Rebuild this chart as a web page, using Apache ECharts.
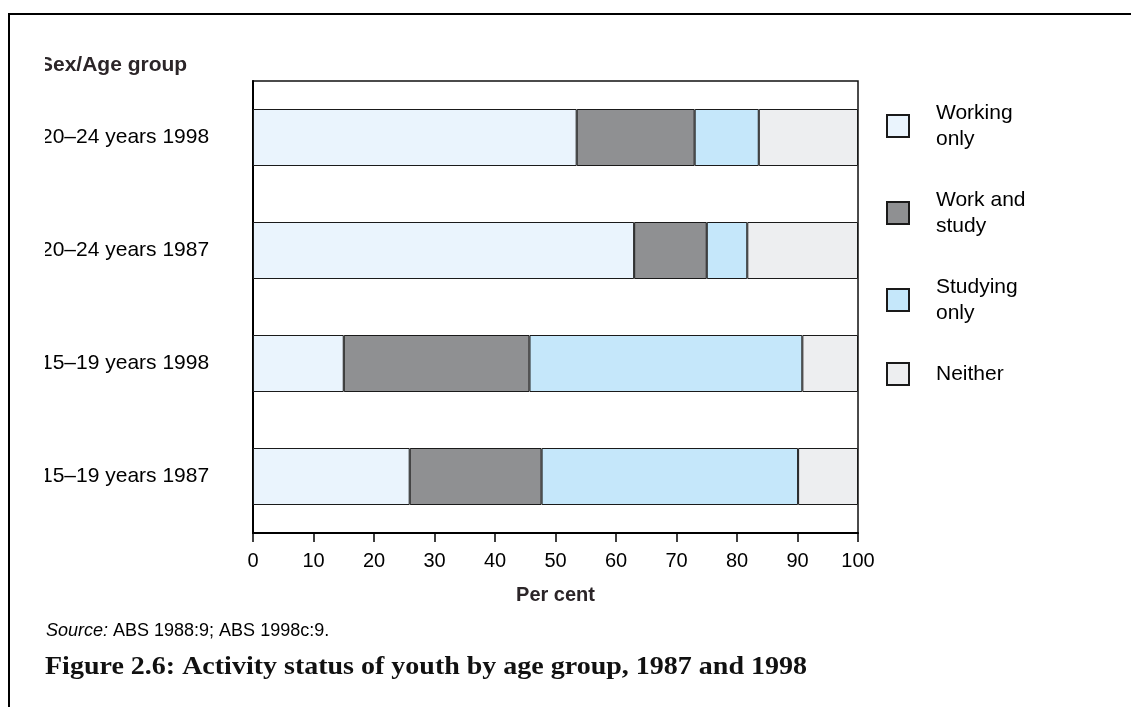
<!DOCTYPE html>
<html>
<head>
<meta charset="utf-8">
<script src="https://cdn.jsdelivr.net/npm/echarts@6/dist/echarts.min.js"></script>
<style>
  html, body { margin: 0; padding: 0; background: #fff; }
  #chart { width: 1131px; height: 707px; }
</style>
</head>
<body>
<div id="chart"></div>
<script>
// ---- Data ----
const categories = ['20–24 years 1998', '20–24 years 1987', '15–19 years 1998', '15–19 years 1987'];
const seriesNames = ['Working only', 'Work and study', 'Studying only', 'Neither'];
const legendLabels = ['Working\nonly', 'Work and\nstudy', 'Studying\nonly', 'Neither'];
const workingOnly = [53.5, 63.0, 15.0, 25.9];
const workAndStudy = [19.5, 12.0, 30.7, 21.8];
const studyingOnly = [10.6, 6.7, 45.1, 42.4];
const neither = [16.4, 18.3, 9.2, 9.9];
const xMin = 0, xMax = 100, xInterval = 10;
const yTitle = 'Sex/Age group';
const xTitle = 'Per cent';
const sourceItalic = 'Source:';
const sourceText = ' ABS 1988:9; ABS 1998c:9.';
const caption = 'Figure 2.6: Activity status of youth by age group, 1987 and 1998';

const colors = ['#EAF4FD', '#8F9092', '#C5E7FA', '#EDEEF0'];
const values = [workingOnly, workAndStudy, studyingOnly, neither];
const sans = '"Liberation Sans", Arial, sans-serif';
const dark = '#2b2528';

const chart = echarts.init(document.getElementById('chart'), null, { renderer: 'canvas' });

const series = seriesNames.map((name, i) => ({
  name: name,
  type: 'bar',
  stack: 'total',
  barWidth: 57,
  data: values[i],
  itemStyle: { color: colors[i], borderColor: '#1a1a1a', borderWidth: 1 },
  emphasis: { disabled: true },
  animation: false
}));

chart.setOption({
  animation: false,
  backgroundColor: '#fff',
  grid: {
    left: 253, top: 81, width: 605, height: 452,
    show: true, borderColor: '#111', borderWidth: 1.5, backgroundColor: 'transparent'
  },
  xAxis: {
    type: 'value', min: xMin, max: xMax, interval: xInterval,
    axisLine: { show: true, lineStyle: { color: '#000', width: 2 } },
    axisTick: { show: true, length: 9, lineStyle: { color: '#000', width: 1.5 } },
    axisLabel: { fontFamily: sans, fontSize: 20, color: '#000', margin: 18 },
    splitLine: { show: false },
    name: xTitle, nameLocation: 'middle', nameGap: 52,
    nameTextStyle: { fontFamily: sans, fontSize: 20, fontWeight: 'bold', color: dark }
  },
  yAxis: {
    type: 'category', data: categories, inverse: true,
    axisLine: { show: true, lineStyle: { color: '#000', width: 2 } },
    axisTick: { show: false },
    axisLabel: { fontFamily: sans, fontSize: 21, color: '#000', align: 'left', margin: 212 }
  },
  legend: {
    orient: 'vertical', left: 886, top: 100, itemGap: 35, padding: 0,
    itemWidth: 22, itemHeight: 22, icon: 'rect',
    data: seriesNames,
    formatter: (name) => legendLabels[seriesNames.indexOf(name)],
    textStyle: { fontFamily: sans, fontSize: 21, lineHeight: 26, color: '#000', padding: [0, 0, 0, 22] },
    selectedMode: false
  },
  series: series,
  graphic: [
    { type: 'line', shape: { x1: 9, y1: 14, x2: 1131, y2: 14 }, style: { stroke: '#000', lineWidth: 2 }, z: 100 },
    { type: 'line', shape: { x1: 9, y1: 13, x2: 9, y2: 707 }, style: { stroke: '#000', lineWidth: 2 }, z: 100 },
    { type: 'text', left: 39, top: 55, style: { text: yTitle, font: 'bold 21px ' + sans, fill: dark }, z: 50 },
    { type: 'rect', shape: { x: 10.5, y: 40, width: 34.5, height: 460 }, style: { fill: '#fff' }, z: 90 },
    { type: 'text', x: 46, y: 631, style: {
        text: '{i|' + sourceItalic + '}' + sourceText,
        font: '18px ' + sans, fill: '#000', verticalAlign: 'middle',
        rich: { i: { fontFamily: sans, fontSize: 18, fontStyle: 'italic', fill: '#000' } }
      }, z: 50 },
    { type: 'text', x: 45, y: 668, scaleX: 1.12, style: {
        text: caption, font: 'bold 25px "Liberation Serif", "Times New Roman", serif',
        fill: '#111', verticalAlign: 'middle'
      }, z: 50 }
  ]
});
</script>
</body>
</html>
